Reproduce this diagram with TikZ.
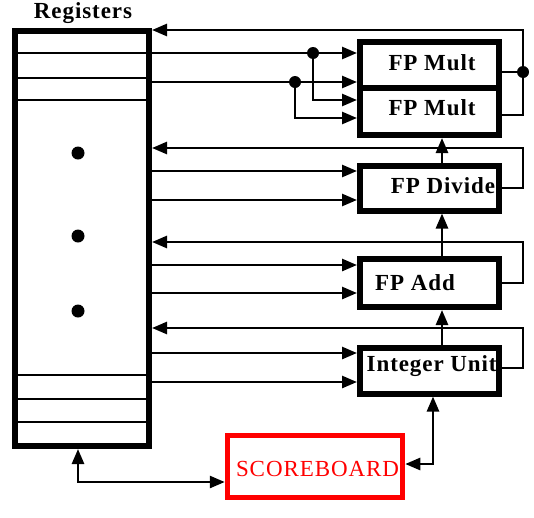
\documentclass[tikz,border=0pt]{standalone}
\usepackage{fontspec}
\setmainfont{Liberation Serif}
\newfontfamily\widefont[LetterSpace=4]{Liberation Serif}
\usetikzlibrary{arrows.meta}
\begin{document}
\begin{tikzpicture}[x=1pt,y=-1pt,
  regbox/.style={draw,line width=6pt,inner sep=0pt},
  unitbox/.style={draw,line width=6pt,minimum width=139pt,inner sep=0pt},
  lbl/.style={anchor=base,inner sep=0pt,font=\widefont\bfseries\fontsize{23}{23}\selectfont},
  conn/.style={line width=2.6pt},
  arr/.style={conn,-{Triangle[length=15pt,width=12pt]}},
  dbl/.style={conn,{Triangle[length=15pt,width=12pt]}-{Triangle[length=15pt,width=12pt]}},
  jdot/.style={circle,fill,inner sep=0pt,minimum size=12pt}]
\useasboundingbox (0,0) rectangle (534,517);

% labels (drawn first so box borders lie on top)
\node[lbl,font=\widefont\bfseries\fontsize{23}{23}\selectfont] (tr) at (83,18.5) {Registers};
\node[lbl] (tm1) at (432,70) {FP Mult};
\node[lbl] (tm2) at (432,115.5) {FP Mult};
\node[lbl] (tdv) at (443,193) {FP Divide};
\node[lbl] (tad) at (415,290.5) {FP Add};
\node[lbl,anchor=base west] (tin) at (366.5,371) {Integer Unit};
\node[lbl,font=\widefont\fontsize{23}{23}\selectfont,text=red] (tsb) at (317.5,476.5) {SCOREBOARD};

% boxes
\node[regbox,minimum width=134pt,minimum height=415pt] (reg) at (82,238.5) {};
\node[unitbox,minimum height=46pt] (m1) at (429.5,65) {};
\node[unitbox,minimum height=47pt] (m2) at (429.5,111.5) {};
\node[unitbox,minimum height=45pt] (dv) at (429.5,188) {};
\node[unitbox,minimum height=48pt] (ad) at (429.5,283) {};
\node[unitbox,minimum height=46pt] (in) at (429.5,370.5) {};
\node[draw=red,line width=5.5pt,minimum width=175pt,minimum height=62pt,inner sep=0pt] (sb) at (315,466.5) {};

% register rows and dots
\foreach \yy in {53,78,100,375,399,422}
  \draw[line width=2.6pt] (reg.west |- 0,\yy) -- (reg.east |- 0,\yy);
\node[jdot,minimum size=13pt] (v1) at (78,153) {};
\node[jdot,minimum size=13pt] (v2) at (78,236) {};
\node[jdot,minimum size=13pt] (v3) at (78,311) {};

% FP Mult
\node[jdot] (d1) at (313,53) {};
\node[jdot] (d2) at (295,82) {};
\node[jdot] (d3) at (523,72) {};
\draw[arr] (reg.east |- d1) -- (m1.west |- d1);
\draw[arr] (reg.east |- d2) -- (m1.west |- d2);
\draw[arr] (d1.center) |- (m2.west |- 0,100);
\draw[arr] (d2.center) |- (m2.west |- 0,118);
\draw[line width=1.2pt] (m1.east |- d3) -- (d3);
\draw[arr] (m2.east |- 0,115) -| (d3.center) |- (reg.east |- 0,30);

% FP Divide
\draw[arr] (dv.east) -- (523,188) -- (523,148) -- (reg.east |- 0,148);
\draw[arr] (reg.east |- 0,171) -- (dv.west |- 0,171);
\draw[arr] (reg.east |- 0,200) -- (dv.west |- 0,200);
\draw[arr] (dv.north -| 442,0) -- (m2.south -| 442,0);

% FP Add
\draw[arr] (ad.east) -- (523,283) -- (523,242) -- (reg.east |- 0,242);
\draw[arr] (reg.east |- 0,265) -- (ad.west |- 0,265);
\draw[arr] (reg.east |- 0,293) -- (ad.west |- 0,293);
\draw[arr] (ad.north -| 442,0) -- (dv.south -| 442,0);

% Integer Unit
\draw[arr] (in.east |- 0,368) -- (523,368) -- (523,328) -- (reg.east |- 0,328);
\draw[arr] (reg.east |- 0,353) -- (in.west |- 0,353);
\draw[arr] (reg.east |- 0,382) -- (in.west |- 0,382);
\draw[arr] (in.north -| 442,0) -- (ad.south -| 442,0);

% Scoreboard
\draw[dbl] (reg.south -| 78,0) |- (sb.west |- 0,482);
\draw[dbl] (sb.east |- 0,464) -| (in.south -| 433,0);
\end{tikzpicture}
\end{document}
